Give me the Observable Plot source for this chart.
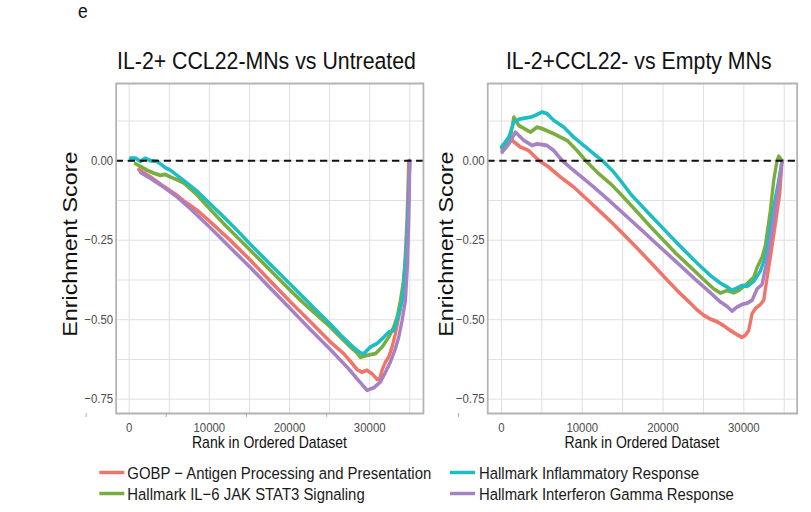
<!DOCTYPE html>
<html><head><meta charset="utf-8">
<script src="https://cdn.jsdelivr.net/npm/d3@7"></script>
<script src="https://cdn.jsdelivr.net/npm/@observablehq/plot@0.6"></script>
<style>
html,body{margin:0;padding:0;background:#fff;overflow:hidden;}
#page{position:relative;width:811px;height:512px;overflow:hidden;background:#fff;}
#wrap{position:absolute;left:0;top:0;width:925px;height:512px;transform:scale(0.877,1);transform-origin:0 0;}
#wrap svg{position:absolute;}
</style></head><body><div id="page"><div id="wrap"></div></div>
<script>
// ---------------- data ----------------
const seriesNames = [
  "GOBP \u2212 Antigen Processing and Presentation",
  "Hallmark IL\u22126 JAK STAT3 Signaling",
  "Hallmark Inflammatory Response",
  "Hallmark Interferon Gamma Response"
];
const seriesColors = ["#F1746B", "#79AD3F", "#1DBDC1", "#A681C3"];
const panelTitles = ["IL-2+ CCL22-MNs vs Untreated", "IL-2+CCL22- vs Empty MNs"];
const xTitle = "Rank in Ordered Dataset";
const yTitle = "Enrichment Score";
const figureTag = "e";
const xTickValues = [0, 10000, 20000, 30000];
const xGridValues = [0, 5000, 10000, 15000, 20000, 25000, 30000, 35000];
const yTickValues = [-0.75, -0.5, -0.25, 0];
const yGridValues = [-0.75, -0.625, -0.5, -0.375, -0.25, -0.125, 0, 0.125];
const yDomain = [-0.795, 0.243];
const xDomainLeft = [-1620, 36700];
const xDomainRight = [-1700, 36600];

// Panel 1: IL-2+ CCL22-MNs vs Untreated
const untreatedGOBP = [[1205,-0.028],[2660,-0.051],[4322,-0.081],[5985,-0.109],[6816,-0.127],[7440,-0.137],[8478,-0.156],[10140,-0.193],[12634,-0.251],[15128,-0.313],[17620,-0.379],[20115,-0.444],[22610,-0.507],[25100,-0.570],[26765,-0.607],[27600,-0.631],[28430,-0.657],[29050,-0.665],[29670,-0.659],[30300,-0.670],[30920,-0.688],[31250,-0.686],[31540,-0.659],[31960,-0.633],[32375,-0.617],[32790,-0.586],[33200,-0.544],[33620,-0.492],[34040,-0.440],[34370,-0.330],[34660,-0.180],[34870,0]];
const untreatedIL6 = [[790,-0.009],[1413,-0.018],[2244,-0.030],[3075,-0.039],[3907,-0.046],[4530,-0.043],[5153,-0.051],[5985,-0.060],[6816,-0.070],[8478,-0.108],[10140,-0.154],[11800,-0.198],[13465,-0.240],[15128,-0.282],[16790,-0.324],[18450,-0.366],[20115,-0.408],[21777,-0.448],[23440,-0.486],[25100,-0.523],[26350,-0.555],[27600,-0.586],[28430,-0.605],[28840,-0.618],[29670,-0.612],[30710,-0.607],[31540,-0.586],[32370,-0.555],[33000,-0.523],[33410,-0.492],[33830,-0.440],[34200,-0.380],[34580,-0.280],[34870,-0.120],[34990,0]];
const untreatedInflam = [[166,0.008],[790,0.008],[1413,-0.002],[2036,0.008],[2660,0.000],[3491,-0.002],[4530,-0.022],[5153,-0.030],[6816,-0.062],[8478,-0.096],[10140,-0.137],[11800,-0.177],[13465,-0.219],[15128,-0.263],[16790,-0.305],[18450,-0.347],[20115,-0.389],[21777,-0.431],[23440,-0.473],[25100,-0.514],[26350,-0.548],[27600,-0.578],[28220,-0.592],[28840,-0.604],[29250,-0.607],[30090,-0.586],[30920,-0.575],[31750,-0.555],[32370,-0.539],[33000,-0.534],[33410,-0.502],[33830,-0.460],[34040,-0.440],[34300,-0.370],[34600,-0.260],[34800,-0.140],[34990,0]];
const untreatedIFNG = [[1413,-0.036],[2660,-0.055],[4322,-0.083],[5985,-0.114],[7647,-0.151],[10140,-0.211],[12634,-0.274],[15128,-0.336],[17620,-0.401],[20115,-0.466],[22610,-0.531],[25100,-0.594],[26765,-0.638],[27600,-0.661],[28430,-0.686],[29680,-0.722],[30500,-0.714],[31330,-0.696],[31960,-0.665],[32580,-0.633],[33200,-0.591],[33620,-0.555],[34040,-0.502],[34450,-0.440],[34700,-0.330],[34880,-0.180],[35000,0]];

// Panel 2: IL-2+CCL22- vs Empty MNs
const emptyGOBP = [[83,0.032],[701,0.059],[1320,0.064],[2351,0.043],[3383,0.032],[4620,0.001],[5858,-0.020],[7301,-0.051],[8951,-0.083],[10189,-0.112],[11839,-0.151],[13489,-0.190],[15139,-0.232],[16789,-0.275],[18439,-0.319],[20089,-0.364],[21739,-0.408],[23389,-0.448],[24214,-0.469],[25039,-0.486],[25864,-0.498],[26689,-0.506],[27514,-0.519],[28339,-0.534],[29164,-0.547],[29783,-0.555],[30195,-0.549],[30608,-0.534],[31020,-0.481],[31433,-0.465],[32051,-0.452],[32464,-0.439],[32670,-0.403],[32959,-0.355],[33289,-0.303],[33908,-0.198],[34444,-0.104],[34733,0]];
const emptyIL6 = [[83,0.038],[1114,0.074],[1526,0.137],[2145,0.111],[3589,0.090],[4414,0.106],[5033,0.101],[6476,0.085],[8126,0.064],[9364,0.032],[10395,0.001],[11839,-0.036],[13489,-0.072],[14726,-0.104],[16789,-0.161],[18439,-0.207],[20089,-0.251],[21739,-0.295],[23389,-0.334],[25039,-0.374],[26276,-0.403],[27101,-0.416],[27926,-0.408],[28751,-0.415],[29370,-0.408],[30401,-0.387],[31226,-0.366],[31639,-0.336],[32258,-0.303],[32670,-0.266],[33289,-0.156],[33701,-0.062],[34114,0.001],[34320,0.014],[34733,0]];
const emptyInflam = [[0,0.043],[908,0.074],[1526,0.122],[2351,0.132],[3589,0.137],[4208,0.143],[5033,0.153],[5651,0.148],[6476,0.127],[7714,0.106],[8951,0.074],[10189,0.048],[11426,0.022],[12458,0.001],[13901,-0.036],[14726,-0.062],[15964,-0.104],[17614,-0.149],[19264,-0.193],[20914,-0.237],[22564,-0.280],[24214,-0.322],[25864,-0.361],[27101,-0.385],[27926,-0.397],[28545,-0.408],[29164,-0.400],[29783,-0.392],[30401,-0.395],[31226,-0.379],[32051,-0.347],[32670,-0.303],[33083,-0.240],[33701,-0.146],[34320,-0.062],[34733,0]];
const emptyIFNG = [[83,0.027],[908,0.053],[1733,0.090],[2764,0.064],[3795,0.048],[4414,0.053],[5651,0.048],[6476,0.032],[7508,0.001],[8539,-0.022],[9776,-0.048],[11014,-0.074],[12664,-0.110],[14314,-0.148],[15964,-0.186],[17614,-0.224],[19264,-0.263],[20914,-0.301],[22564,-0.340],[24214,-0.378],[25864,-0.415],[27101,-0.444],[27926,-0.458],[28545,-0.473],[29164,-0.460],[29783,-0.452],[30401,-0.448],[31020,-0.439],[31639,-0.403],[32258,-0.389],[32876,-0.313],[33495,-0.219],[34114,-0.114],[34733,0]];

// ---------------- layout ----------------
const SX = 0.877;               // horizontal squeeze of the whole figure
const sx = v => v / SX;         // screen x -> unscaled x
const FONT = "'Liberation Sans', Arial, Helvetica, sans-serif";
const wrap = document.getElementById("wrap");

function toRows(list) {
  const out = [];
  list.forEach((pts, i) => pts.forEach(([x, y]) => out.push({x, y, series: seriesNames[i]})));
  return out;
}

function panel(rows, xDomain, left, width, frameL, frameR, artifactTicks) {
  const el = Plot.plot({
    width, height: 360,
    marginLeft: sx(frameL) - left, marginRight: width - (sx(frameR) - left),
    marginTop: 8, marginBottom: 22,
    x: {domain: xDomain, axis: null},
    y: {domain: yDomain, axis: null},
    color: {domain: seriesNames, range: seriesColors},
    style: {background: "transparent", overflow: "visible", fontFamily: FONT, fontSize: "13px", color: "#4d4d4d"},
    marks: [
      Plot.gridX(xGridValues, {stroke: "#dedede", strokeOpacity: 1, strokeWidth: 1.1}),
      Plot.gridY(yGridValues, {stroke: "#dedede", strokeOpacity: 1, strokeWidth: 1}),
      Plot.line(rows, {x: "x", y: "y", z: "series", stroke: "series", strokeWidth: 3.8, strokeLinejoin: "round", strokeLinecap: "round"}),
      Plot.ruleY([0], {stroke: "#111", strokeWidth: 2, strokeDasharray: "8.3,5.4"}),
      Plot.frame({stroke: "#b3b3b3", strokeWidth: 2}),
      Plot.axisX(xTickValues, {tickSize: 0, tickPadding: 9, tickFormat: d => String(d), label: null, fontSize: 13, fill: "#4d4d4d"}),
      Plot.axisX(artifactTicks, {tickSize: 4, tickFormat: () => "", label: null, dx: sx(-43), stroke: "#aaaaaa"}),
      Plot.axisY(yTickValues, {tickSize: 0, tickPadding: 3.5, tickFormat: d3.format(".2f"), label: null, fontSize: 13, fill: "#4d4d4d"})
    ]
  });
  el.style.position = "absolute";
  el.style.left = left + "px";
  el.style.top = "75px";
  wrap.appendChild(el);
}

panel(toRows([untreatedGOBP, untreatedIL6, untreatedInflam, untreatedIFNG]), xDomainLeft, 0, 490, 115.7, 423, xTickValues);
panel(toRows([emptyGOBP, emptyIL6, emptyInflam, emptyIFNG]), xDomainRight, 490, 435, 487.3, 796.7, [0]);

// ---------------- text overlay ----------------
const ov = d3.select(wrap).append("svg")
  .attr("width", 925).attr("height", 512)
  .style("left", "0px").style("top", "0px")
  .attr("font-family", FONT);

ov.append("text").attr("x", sx(78)).attr("y", 18).attr("font-size", 20).attr("fill", "#111").text(figureTag);

const titleX = [266.5, 638.8];
panelTitles.forEach((t, i) => {
  ov.append("text").attr("x", sx(titleX[i])).attr("y", 68.8).attr("text-anchor", "middle")
    .attr("font-size", 24.3).attr("fill", "#111").text(t);
});

const yTitleX = [77.3, 453.3];
yTitleX.forEach(x => {
  ov.append("text").attr("transform", `translate(${sx(x)},244.2) rotate(-90)`)
    .attr("text-anchor", "middle").attr("font-size", 23.3).attr("fill", "#111").text(yTitle);
});

const xTitleX = [269.5, 642];
xTitleX.forEach(x => {
  ov.append("text").attr("x", sx(x)).attr("y", 448.3).attr("text-anchor", "middle")
    .attr("font-size", 16).attr("fill", "#111").text(xTitle);
});

// legend: two columns, filled column-wise
const legendCols = [{s1: 99.3, s2: 124.3, t: 127.3}, {s1: 450, s2: 475, t: 479}];
const legendRows = [479.5, 500.5];
seriesNames.forEach((name, i) => {
  const c = legendCols[Math.floor(i / 2)], r = legendRows[i % 2];
  ov.append("line").attr("x1", sx(c.s1)).attr("x2", sx(c.s2)).attr("y1", r - 7).attr("y2", r - 7)
    .attr("stroke", seriesColors[i]).attr("stroke-width", 3.5);
  ov.append("text").attr("x", sx(c.t)).attr("y", r).attr("font-size", 17).attr("fill", "#1a1a1a").text(name);
});
</script></body></html>
